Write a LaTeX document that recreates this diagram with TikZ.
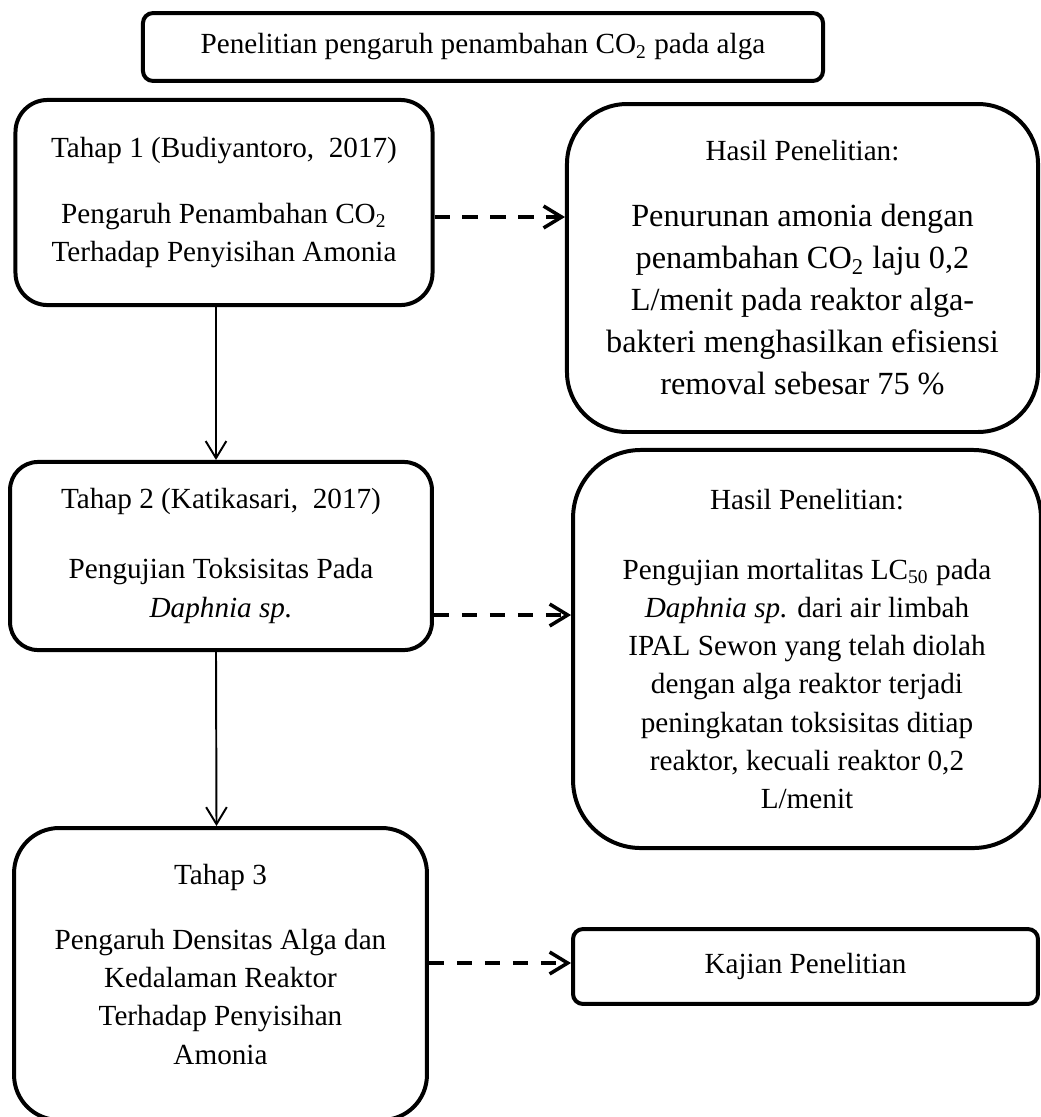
\documentclass[tikz,border=0pt]{standalone}
\usepackage{fontspec}
\setmainfont{Liberation Serif}
\usetikzlibrary{arrows.meta,calc}
\begin{document}
\begin{tikzpicture}[x=0.411pt,y=-0.411pt,
  box/.style={draw, line width=1.64pt, rectangle, align=center, inner sep=0pt,
    font=\fontsize{12}{15.74}\selectfont},
  bigtext/.style={font=\fontsize{13.27}{17.26}\selectfont},
  solidarr/.style={line width=0.8pt, -{Straight Barb[length=7pt,width=8.5pt]}},
  dasharr/.style={line width=1.45pt, dash pattern=on 6.2pt off 5.3pt,
    -{Straight Barb[length=7.4pt,width=9pt]}}]
\useasboundingbox (0,0) rectangle (1041,1117);

\node[box, minimum width=279.5pt, minimum height=27.9pt, rounded corners=4.1pt]
  (top) at (483,47) {Penelitian pengaruh penambahan CO\textsubscript{2} pada alga};

\node[box, minimum width=171.4pt, minimum height=84.3pt, rounded corners=13.2pt]
  (box1) at (224,202.5) {Tahap 1 (Budiyantoro,\ \ 2017)\\[11.4pt]
  Pengaruh Penambahan CO\textsubscript{2}\\ Terhadap Penyisihan Amonia};

\node[box, bigtext, minimum width=193.6pt, minimum height=134.8pt, rounded corners=24.7pt]
  (res1) at (802.5,268) {{\fontsize{12}{15.74}\selectfont Hasil Penelitian:}\\[9.85pt]
  Penurunan amonia dengan\\ penambahan CO\textsubscript{2} laju 0,2\\
  L/menit pada reaktor alga-\\ bakteri menghasilkan efisiensi\\ removal sebesar 75 \%};

\node[box, minimum width=173.4pt, minimum height=77.3pt, rounded corners=11.5pt]
  (box2) at (221,556) {Tahap 2 (Katikasari,\ \ 2017)\\[13pt]
  Pengujian Toksisitas Pada\\ \textit{Daphnia sp.}\rule[-2pt]{0pt}{2pt}};

\node[box, minimum width=192.3pt, minimum height=163.6pt, rounded corners=27.9pt]
  (res2) at (807,649) {Hasil Penelitian:\\[13pt]
  Pengujian mortalitas LC\textsubscript{50} pada\\ \textit{Daphnia sp.} dari air limbah\\
  IPAL Sewon yang telah diolah\\ dengan alga reaktor terjadi\\
  peningkatan toksisitas ditiap\\ reaktor, kecuali reaktor 0,2\\ L/menit};

\node[box, minimum width=169.7pt, minimum height=120pt, rounded corners=18.5pt]
  (box3) at (220.5,974) {Tahap 3\\[11pt]
  Pengaruh Densitas Alga dan\\ Kedalaman Reaktor\\ Terhadap Penyisihan\\
  Amonia\rule[-8.2pt]{0pt}{8.2pt}};

\node[box, minimum width=191.1pt, minimum height=30.8pt, rounded corners=4.1pt]
  (kaj) at (805.5,966.5) {Kajian Penelitian};

\draw[solidarr] ($(box1.south)+(-8,0)$) -- ($(box2.north)+(-5,0)$);
\draw[solidarr] ($(box2.south)+(-5,0)$) -- ($(box3.north)+(-4,0)$);

\coordinate (d1) at ($(box1.east)+(0,14.5)$);
\coordinate (d2) at ($(box2.east)+(0,59)$);
\coordinate (d3) at ($(box3.east)+(0,-11)$);
\draw[dasharr] (d1) -- (d1 -| res1.west);
\draw[dasharr] (d2) -- (d2 -| res2.west);
\draw[dasharr] (d3) -- (d3 -| kaj.west);
\end{tikzpicture}
\end{document}
